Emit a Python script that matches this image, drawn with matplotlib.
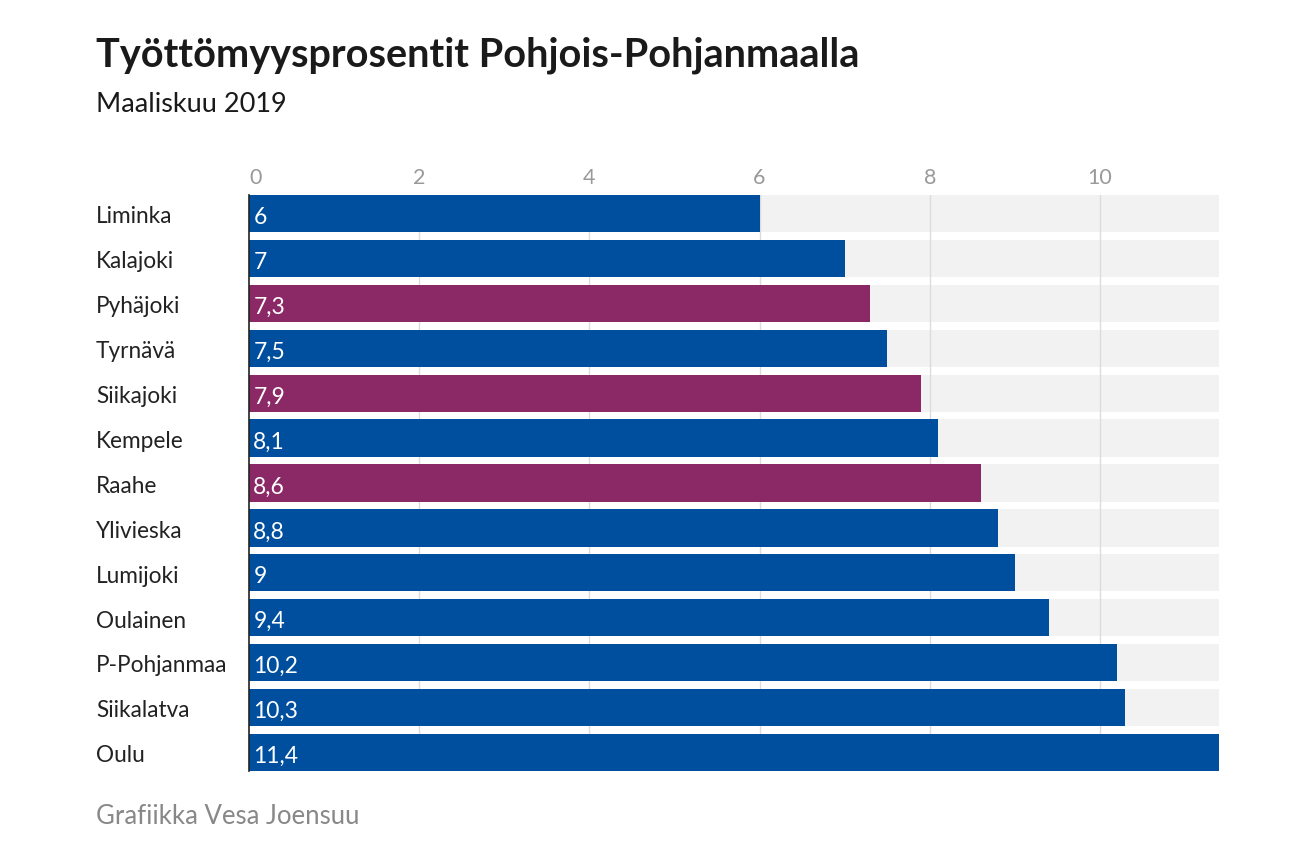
import numpy as np
import matplotlib
matplotlib.use("Agg")
import matplotlib.pyplot as plt

plt.rcParams['font.family'] = ['Lato', 'DejaVu Sans']

# data
kunnat = ['Liminka', 'Kalajoki', 'Pyhäjoki', 'Tyrnävä', 'Siikajoki', 'Kempele',
          'Raahe', 'Ylivieska', 'Lumijoki', 'Oulainen', 'P-Pohjanmaa',
          'Siikalatva', 'Oulu']
prosentit = [6, 7, 7.3, 7.5, 7.9, 8.1, 8.6, 8.8, 9, 9.4, 10.2, 10.3, 11.4]
korostus = ['Pyhäjoki', 'Siikajoki', 'Raahe']
xticks = [0, 2, 4, 6, 8, 10]

blue = '#004f9e'
purple = '#8a2966'
x_max = max(prosentit)

fig = plt.figure(figsize=(12.9, 8.59), dpi=100)
ax = fig.add_axes([249 / 1290, 1 - 771 / 859, 970 / 1290, 576 / 859])

y = np.arange(len(kunnat))
h = 0.83
colors = [purple if k in korostus else blue for k in kunnat]

# gray background rows, gridlines, then data bars
ax.barh(y, [x_max] * len(kunnat), height=h, color='#f2f2f2', zorder=1)
for t in xticks[1:]:
    ax.axvline(t, color='#dcdcdc', linewidth=1, zorder=2)
ax.barh(y, prosentit, height=h, color=colors, zorder=3)

for yi, v in zip(y, prosentit):
    ax.text(0.05, yi + 0.09, f"{v:g}".replace('.', ','), color='white',
            fontsize=16.5, va='center', ha='left', zorder=4)

ax.set_xlim(0, x_max)
ax.set_ylim(len(kunnat) - 1 + h / 2, -h / 2)
ax.set_yticks(y + 0.03)
ax.set_yticklabels(kunnat, fontsize=16.3, color='#222222')
ax.set_xticks(xticks)
ax.set_xticklabels([str(t) for t in xticks], fontsize=15.5, color='#999999')
ax.xaxis.tick_top()
ax.tick_params(axis='x', length=0, pad=5)
ax.tick_params(axis='y', length=0, pad=0)
for lab in ax.get_yticklabels():
    lab.set_horizontalalignment('left')
    lab.set_x(-153 / 970)
    lab.set_transform(ax.get_yaxis_transform())
ax.get_xticklabels()[0].set_horizontalalignment('left')

for s in ['top', 'right', 'bottom']:
    ax.spines[s].set_visible(False)
ax.spines['left'].set_color('#222222')
ax.spines['left'].set_linewidth(1.2)
ax.spines['left'].set_zorder(5)

fig.text(96 / 1290, 1 - 55 / 859, 'Työttömyysprosentit Pohjois-Pohjanmaalla',
         fontsize=28.5, fontweight='bold', color='#1a1a1a', va='center', ha='left')
fig.text(96 / 1290, 1 - 104 / 859, 'Maaliskuu 2019', fontsize=19.5,
         color='#1a1a1a', va='center', ha='left')
fig.text(96 / 1290, 1 - 816 / 859, 'Grafiikka Vesa Joensuu', fontsize=18.5,
         color='#888888', va='center', ha='left')

fig.savefig('out.png', dpi=100, facecolor='white')
